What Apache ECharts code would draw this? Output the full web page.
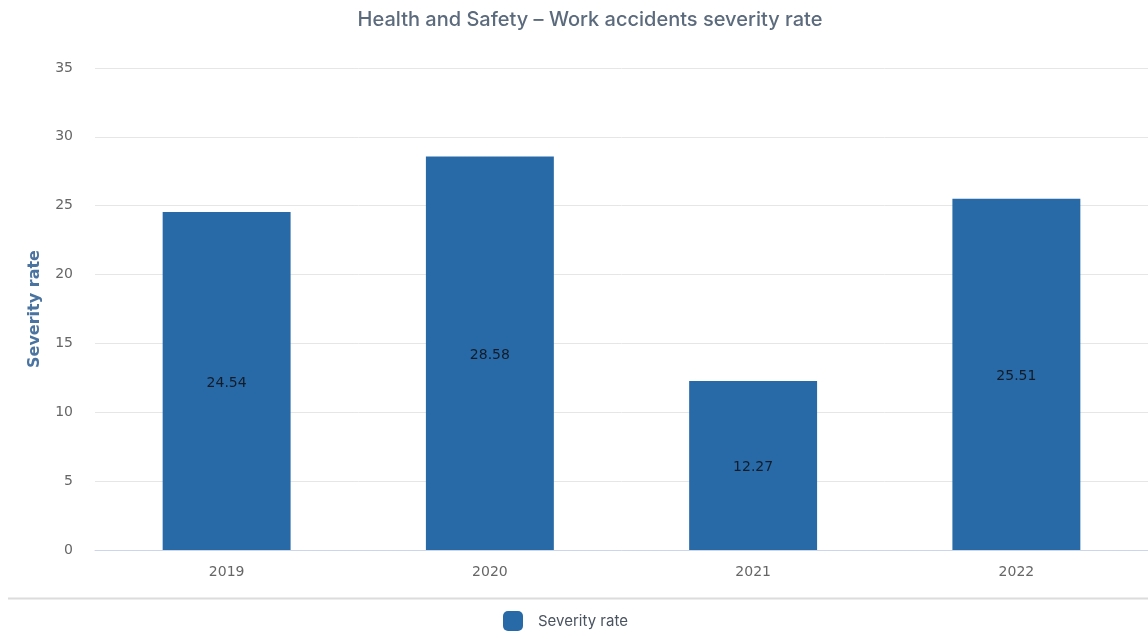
<!DOCTYPE html>
<html><head><meta charset="utf-8">
<script src="https://cdn.jsdelivr.net/npm/echarts@6/dist/echarts.min.js"></script>
<style>html,body{margin:0;padding:0;background:#fff}#c{width:1148px;height:639px}</style>
</head><body><div id="c"></div>
<script>
const categories = ['2019', '2020', '2021', '2022'];
const severityRate = [24.54, 28.58, 12.27, 25.51];
const seriesName = 'Severity rate';
const yTicks = {min: 0, max: 35, interval: 5};

const chart = echarts.init(document.getElementById('c'), null, {renderer: 'canvas'});
chart.setOption({
  animation: false,
  backgroundColor: '#fff',
  title: {
    text: 'Health and Safety – Work accidents severity rate',
    left: 585, top: 5, textAlign: 'center',
    textStyle: {fontFamily: 'Inter', fontSize: 20, fontWeight: 500, color: '#5b6a7c'}
  },
  grid: {left: 95, right: 0, top: 68, bottom: 89},
  legend: {
    top: 611, left: 503, padding: 0,
    itemWidth: 20, itemHeight: 20, itemGap: 10,
    icon: 'roundRect',
    textStyle: {fontFamily: 'Inter', fontSize: 15, color: '#4a5360', padding: [0, 0, 0, 10]},
    data: [seriesName]
  },
  graphic: [{
    type: 'line', shape: {x1: 8, y1: 598.5, x2: 1148, y2: 598.5},
    style: {stroke: '#dcdcdc', lineWidth: 2}
  }],
  xAxis: {
    type: 'category', data: categories,
    axisLine: {lineStyle: {color: '#ccd6eb', width: 1}},
    axisTick: {alignWithLabel: true, length: 10, lineStyle: {color: '#ccd6eb'}},
    axisLabel: {fontFamily: 'DejaVu Sans', fontSize: 14, color: '#666', margin: 15}
  },
  yAxis: {
    type: 'value', min: yTicks.min, max: yTicks.max, interval: yTicks.interval,
    name: seriesName, nameLocation: 'middle', nameGap: 52,
    nameTextStyle: {fontFamily: 'DejaVu Sans', fontSize: 16, fontWeight: 'bold', color: '#4a73a0'},
    axisLine: {show: false}, axisTick: {show: false},
    axisLabel: {fontFamily: 'DejaVu Sans', fontSize: 14, color: '#666', margin: 22},
    splitLine: {lineStyle: {color: '#e6e6e6', width: 1}}
  },
  series: [{
    name: seriesName, type: 'bar', data: severityRate,
    barWidth: '48.6%',
    itemStyle: {color: '#286aa8'},
    label: {
      show: true, position: 'inside', offset: [0, 2],
      fontFamily: 'DejaVu Sans', fontSize: 14, color: '#111c28',
      formatter: p => p.value.toFixed(2)
    }
  }]
});
</script></body></html>
